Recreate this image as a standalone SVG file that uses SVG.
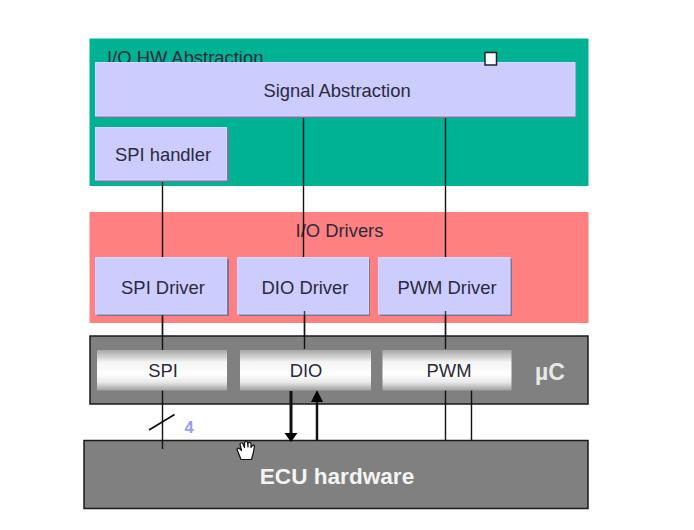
<svg xmlns="http://www.w3.org/2000/svg" width="694" height="530" viewBox="0 0 694 530">
<style>
text{font-family:"Liberation Sans",Arial,sans-serif;font-size:18.400px;fill:#2a2a3a;text-anchor:middle}
.box{fill:#ccccff;stroke:#d6d6ff;stroke-width:1}
.shadow{fill:#777799}
.hw{fill:#808080;stroke:#1a1a1a;stroke-width:1.5}
.pin{fill:url(#metal)}
.wire{stroke:#111;stroke-width:1.4;fill:none}
.bus{stroke:#111;stroke-width:3;fill:none}
.white{fill:#f4f4f4;font-weight:bold}
</style>
<defs>
<linearGradient id="metal" x1="0" y1="0" x2="0" y2="1">
<stop offset="0" stop-color="#a6a6a6"/>
<stop offset="0.3" stop-color="#f4f4f4"/>
<stop offset="0.6" stop-color="#ffffff"/>
<stop offset="0.8" stop-color="#e8e8e8"/>
<stop offset="1" stop-color="#a0a0a0"/>
</linearGradient>
</defs>
<rect width="694" height="530" fill="#ffffff"/>
<g id="io-hw-abstraction">
<rect x="89.500" y="38.500" width="499" height="147.500" fill="#00b294"/>
<text x="107" y="64" style="text-anchor:start">I/O HW Abstraction</text>
</g>
<g id="io-drivers">
<rect x="89.500" y="212" width="499" height="111" fill="#ff8080"/>
<text x="339.500" y="237">I/O Drivers</text>
</g>
<g id="uc">
<rect class="hw" x="90" y="336" width="498" height="68"/>
<text class="white" x="550" y="380" style="font-size:23px;fill:#e8e8e8">µC</text>
</g>
<g id="ecu-hardware">
<rect class="hw" x="84" y="440.500" width="504" height="68"/>
<text class="white" x="337" y="484" style="font-size:22.600px">ECU hardware</text>
</g>
<g id="connectors">
<path class="wire" d="M162.500 182V258M162.500 314V350M162.500 390V449"/>
<path class="wire" d="M303.500 116V258M304.500 314V349"/>
<path class="wire" d="M445.500 116V259M445.500 314V349M445.500 390V441M471.500 390V441"/>
<path class="wire" d="M149 430L174.500 414.500" style="stroke-width:1.800"/>
<path class="bus" d="M291 391V434"/>
<path d="M284.500 433H297.500L291 442Z" fill="#000"/>
<path class="bus" d="M317 398V441" style="stroke-width:2.500"/>
<path d="M311 402L317 390L323 402Z" fill="#000"/>
</g>
<g id="signal-abstraction">
<rect class="shadow" x="97" y="64" width="479" height="54"/>
<rect class="box" x="95.500" y="62.500" width="479.500" height="53.500"/>
<text x="337" y="97">Signal Abstraction</text>
</g>
<g id="spi-handler">
<rect class="shadow" x="97" y="129" width="132" height="53"/>
<rect class="box" x="95.500" y="127.500" width="131" height="52.500"/>
<text x="163" y="161">SPI handler</text>
</g>
<g id="spi-driver">
<rect class="shadow" x="97" y="259" width="132" height="57"/>
<rect class="box" x="95.500" y="257.500" width="131" height="56.500"/>
<text x="163" y="294">SPI Driver</text>
</g>
<g id="dio-driver">
<rect class="shadow" x="239" y="259" width="131" height="57"/>
<rect class="box" x="237.500" y="257.500" width="131" height="56.500"/>
<text x="305" y="294">DIO Driver</text>
</g>
<g id="pwm-driver">
<rect class="shadow" x="380" y="259" width="132" height="57"/>
<rect class="box" x="378.500" y="257.500" width="131.500" height="56.500"/>
<text x="447" y="294">PWM Driver</text>
</g>
<path class="wire" d="M162.500 315V336M304.500 311V336M445.500 311V336" opacity="0.8"/>
<g id="spi"><rect class="pin" x="97" y="350" width="130" height="40.500"/><text x="163" y="377">SPI</text></g>
<g id="dio"><rect class="pin" x="240" y="350" width="131" height="40.500"/><text x="306" y="377">DIO</text></g>
<g id="pwm"><rect class="pin" x="382.500" y="350" width="129" height="40.500"/><text x="449" y="377">PWM</text></g>
<text x="189" y="433" style="font-size:16.500px;font-weight:bold;fill:#9999ff">4</text>
<rect x="485" y="52.500" width="11.500" height="12.500" fill="#fff" stroke="#222" stroke-width="1.500"/>
<path d="M241 459.500L237 449.500Q237.500 447 240 449L241.500 450.500L240 444Q241.500 441.500 243 444L244.500 447.500V442.500Q246 440.500 247.500 442.500L248 447V443Q250 441.500 251 443.500V447.500Q253 444 254.500 445.500L253.500 452L251.500 459.500Z" fill="#fff" stroke="#111" stroke-width="1.200" stroke-linejoin="round"/>
</svg>
